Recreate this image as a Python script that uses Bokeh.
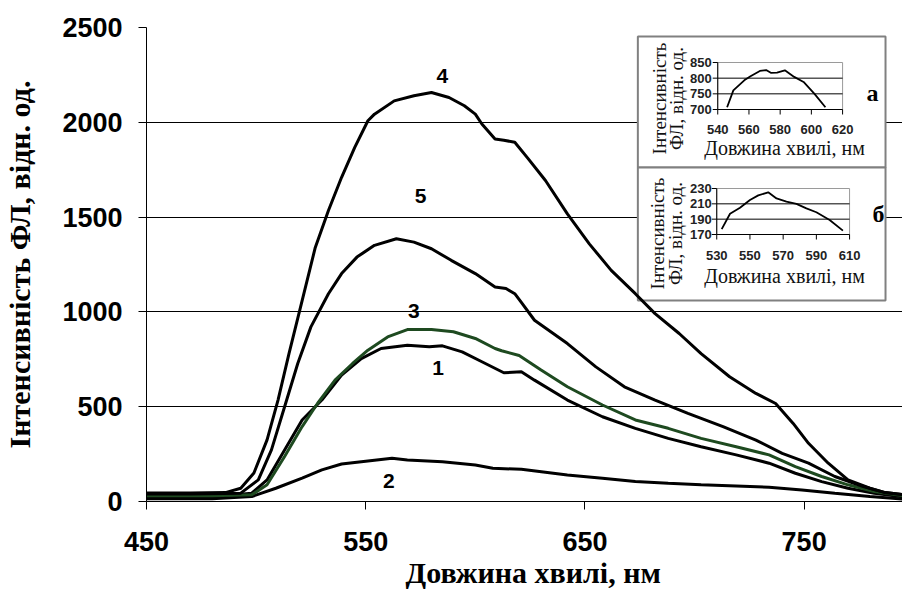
import math
from bokeh.plotting import figure
from bokeh.models import Range1d, Title
from bokeh.core.properties import value
from bokeh.embed import file_html
from bokeh.resources import INLINE

# ---------------- data ----------------
x_ticks = [450, 550, 650, 750]
y_ticks = [0, 500, 1000, 1500, 2000, 2500]

wl_1 = [450, 480, 498, 505, 513, 521, 530, 539, 548, 557, 569, 579, 585, 594, 603, 613, 621, 627, 642, 658, 673, 688, 703, 719, 734, 746, 758, 770, 782, 796, 800]
int_1 = [25, 25, 44, 114, 272, 430, 535, 667, 754, 807, 824, 816, 821, 789, 737, 679, 684, 640, 535, 447, 386, 333, 289, 246, 202, 149, 105, 70, 44, 23, 20]

wl_2 = [450, 480, 498, 509, 521, 530, 539, 551, 562, 569, 585, 600, 608, 621, 642, 658, 673, 688, 703, 719, 734, 749, 764, 780, 796, 800]
int_2 = [15, 15, 26, 70, 123, 167, 198, 214, 228, 219, 210, 193, 175, 170, 140, 123, 105, 96, 88, 82, 75, 61, 44, 26, 12, 10]

wl_3 = [450, 480, 498, 505, 513, 521, 528, 536, 544, 551, 560, 569, 580, 590, 600, 609, 612, 620, 630, 642, 658, 673, 688, 703, 719, 734, 746, 758, 770, 782, 796, 800]
int_3 = [30, 30, 35, 88, 237, 395, 517, 640, 728, 798, 868, 907, 907, 895, 860, 807, 795, 770, 693, 605, 509, 430, 386, 333, 289, 246, 184, 132, 88, 53, 30, 25]

wl_4 = [450, 470, 486, 493, 499, 505, 510, 515, 521, 527, 533, 539, 545, 551, 554, 563, 572, 580, 588, 595, 600, 603, 609, 613, 618, 624, 632, 642, 652, 662, 673, 682, 693, 703, 716, 728, 737, 745, 752, 761, 770, 780, 787, 796, 800]
int_4 = [45, 45, 47, 70, 150, 325, 535, 780, 1060, 1340, 1535, 1710, 1868, 2008, 2043, 2113, 2140, 2157, 2131, 2087, 2043, 1991, 1912, 1905, 1895, 1810, 1693, 1517, 1359, 1219, 1096, 991, 886, 780, 658, 570, 517, 412, 307, 202, 114, 70, 47, 35, 30]

wl_5 = [450, 470, 493, 501, 507, 513, 519, 525, 533, 539, 546, 554, 564, 572, 580, 589, 600, 609, 614, 618, 621, 627, 642, 655, 668, 682, 697, 713, 728, 740, 752, 764, 777, 787, 796, 800]
int_5 = [40, 40, 44, 114, 272, 500, 728, 921, 1096, 1202, 1289, 1351, 1386, 1368, 1333, 1272, 1202, 1131, 1123, 1096, 1050, 956, 833, 710, 605, 535, 465, 395, 324, 254, 202, 132, 79, 47, 35, 30]

curve_names = ["1", "2", "3", "4", "5"]
label_wl = [583, 560.5, 572, 585, 575]
label_int = [705, 110, 1005, 2242, 1610]

# inset a
a_x_ticks = [540, 560, 580, 600, 620]
a_y_ticks = [700, 750, 800, 850]
wl_a = [546, 550, 557, 561, 567, 571, 574, 578, 583, 589, 595, 602, 609]
int_a = [707, 761, 793, 806, 823, 826, 817, 818, 825, 804, 788, 750, 707]

# inset b
b_x_ticks = [530, 550, 570, 590, 610]
b_y_ticks = [170, 190, 210, 230]
wl_b = [533, 538, 544, 550, 555, 561, 566, 572, 578, 584, 590, 598, 606]
int_b = [177, 197, 205, 215, 221, 225, 217, 213, 210, 204, 199, 189, 175]

x_title = "Довжина хвилі, нм"
y_title = "Інтенсивність ФЛ, відн. од."
inset_y_title = ["Інтенсивність", "ФЛ, відн. од."]

# ---------------- layout (page pixels) ----------------
W, H = 902, 589
FL, FR, FT, FB = 145, 902, 27, 501   # frame edges in page pixels


def rng(d0, p0, d1, p1, lo, hi):
    k = (d1 - d0) / (p1 - p0)
    return Range1d(d0 + (lo - p0) * k, d0 + (hi - p0) * k)


p = figure(width=W, height=H, output_backend="svg", toolbar_location=None,
           x_range=Range1d(450, 450 + (FR - FL) / 2.195), y_range=Range1d(0, 2500),
           min_border_left=FL, min_border_right=0, min_border_top=FT,
           min_border_bottom=H - FB)
p.outline_line_color = None
p.background_fill_color = "white"
p.border_fill_color = "white"

p.extra_x_ranges = {
    "px": Range1d(FL, FR),
    "ax": rng(540, 717, 620, 842, FL, FR),
    "bx": rng(530, 716, 610, 849, FL, FR),
}
p.extra_y_ranges = {
    "py": Range1d(FB, FT),
    "ay": rng(700, 109, 850, 62, FB, FT),
    "by": rng(170, 234, 230, 188, FB, FT),
}

p.xgrid.visible = False
p.ygrid.grid_line_color = "black"
p.ygrid.grid_line_width = 1
p.ygrid.ticker = y_ticks

for ax in (p.xaxis[0], p.yaxis[0]):
    ax.axis_line_color = "black"
    ax.major_tick_line_color = "black"
    ax.major_tick_out = 8
    ax.major_tick_in = 0
    ax.minor_tick_line_color = None
    ax.major_label_text_font = "Liberation Sans"
    ax.major_label_text_font_style = "bold"
    ax.major_label_text_font_size = "27px"
    ax.major_label_text_color = "black"
p.xaxis.ticker = x_ticks
p.yaxis.ticker = y_ticks
p.xaxis.major_label_standoff = 22
p.yaxis.major_label_standoff = 16
p.yaxis.axis_label = y_title
p.yaxis.axis_label_text_font = "Liberation Serif"
p.yaxis.axis_label_text_font_style = "bold"
p.yaxis.axis_label_text_font_size = "30px"
p.yaxis.axis_label_text_color = "black"
p.yaxis.axis_label_standoff = 23

p.add_layout(Title(text=x_title, align="left", offset=259, standoff=0,
                   text_font="Liberation Serif", text_font_style="bold",
                   text_font_size="30px", text_color="black"), "below")

# inset boxes
p.quad(left=[637, 637], right=[885, 885], top=[36, 167], bottom=[167, 300],
       x_range_name="px", y_range_name="py", fill_color="white",
       line_color="#808080", line_width=2)

# main curves
series = [(wl_1, int_1, "black"), (wl_2, int_2, "black"), (wl_3, int_3, "#1e4a20"),
          (wl_4, int_4, "black"), (wl_5, int_5, "black")]
for wl, iv, c in series:
    p.line(wl, iv, line_color=c, line_width=3)

p.text(x=label_wl, y=label_int, text=curve_names, text_align="center", text_baseline="middle",
       text_font=value("Liberation Sans"), text_font_style="bold", text_font_size="21px",
       text_color="black")


def inset(xr, yr, xt, yt, wl, iv, xlab_y, ylab_x, title_y, ytitle_xs, ytitle_y):
    x0, x1, y0, y1 = xt[0], xt[-1], yt[0], yt[-1]
    kw = dict(x_range_name=xr, y_range_name=yr)
    p.quad(left=[x0], right=[x1], bottom=[y0], top=[y1], fill_color=None,
           line_color="#9a9a9a", line_width=1, **kw)
    p.segment(x0=[x0] * (len(yt) - 2), x1=[x1] * (len(yt) - 2), y0=yt[1:-1], y1=yt[1:-1],
              line_color="black", line_width=1, **kw)
    p.segment(x0=[x0, x0], x1=[x1, x0], y0=[y0, y0], y1=[y0, y1], line_color="black",
              line_width=1, **kw)
    p.ray(x=xt, y=[y0] * len(xt), length=5, length_units="screen", angle=-math.pi / 2,
          line_color="black", line_width=1, **kw)
    p.ray(x=[x0] * len(yt), y=yt, length=5, length_units="screen", angle=math.pi,
          line_color="black", line_width=1, **kw)
    p.line(wl, iv, line_color="black", line_width=1.8, **kw)
    p.text(x=xt, y=[xlab_y] * len(xt), text=[str(t) for t in xt], x_range_name=xr,
           y_range_name="py", text_align="center", text_baseline="middle",
           text_font=value("Liberation Sans"), text_font_style="bold",
           text_font_size="13px", text_color="#222222")
    p.text(x=[ylab_x] * len(yt), y=yt, text=[str(t) for t in yt], x_range_name="px",
           y_range_name=yr, text_align="right", text_baseline="middle",
           text_font=value("Liberation Sans"), text_font_style="bold",
           text_font_size="13px", text_color="#222222")
    p.text(x=[(717 + 849) / 2 + 1], y=[title_y], text=[x_title], x_range_name="px",
           y_range_name="py", text_align="center", text_baseline="middle",
           text_font=value("Liberation Serif"), text_font_size="20px", text_color="#111111")
    p.text(x=ytitle_xs, y=[ytitle_y] * 2, text=inset_y_title, x_range_name="px",
           y_range_name="py", angle=math.pi / 2, text_align="center", text_baseline="middle",
           text_font=value("Liberation Serif"), text_font_size="19px", text_color="#111111")


inset("ax", "ay", a_x_ticks, a_y_ticks, wl_a, int_a, 129, 711, 147, [659, 676], 98)
inset("bx", "by", b_x_ticks, b_y_ticks, wl_b, int_b, 255, 711, 275, [657, 675], 233)

p.text(x=[872, 878], y=[92, 213], text=["а", "б"], x_range_name="px", y_range_name="py",
       text_align="center", text_baseline="middle", text_font=value("Liberation Serif"),
       text_font_style="bold", text_font_size="24px", text_color="black")

open("out.html", "w").write(file_html(p, INLINE))
